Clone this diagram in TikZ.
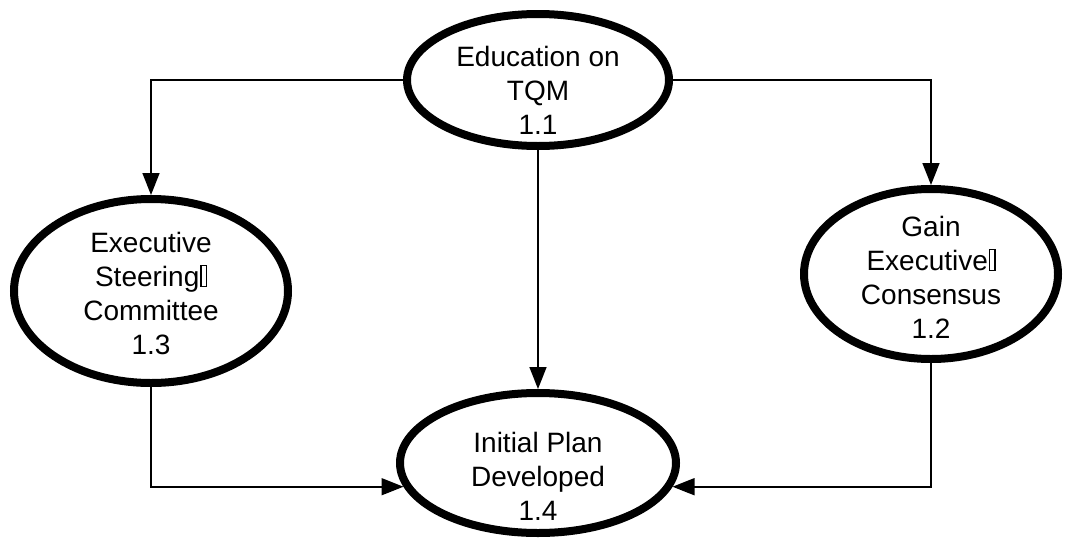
\documentclass[tikz,border=0pt]{standalone}
\usepackage{fontspec}
\setmainfont{Liberation Sans}
\usetikzlibrary{shapes.geometric,arrows.meta}
% narrow empty box that follows some words
\newcommand{\tofubox}{\kern1pt{\setlength{\fboxsep}{0pt}\setlength{\fboxrule}{1.3pt}\fbox{\rule{0pt}{20pt}\kern4pt}}}
\tikzset{
  process/.style={ellipse, draw=black, line width=8pt, fill=white, inner sep=0pt},
  proctext/.style={align=center, inner sep=0pt, font=\fontsize{28}{34}\selectfont},
  flow/.style={draw=black, line width=1.6pt,
    -{Triangle[length=22pt,width=17pt]}}
}
\begin{document}
\begin{tikzpicture}[x=1pt,y=-1pt]
\useasboundingbox (0,0) rectangle (1068,538);

% process bubbles
\node[process, minimum width=262pt, minimum height=132pt] (edu) at (538,80) {};
\node[process, minimum width=274pt, minimum height=184pt] (steer) at (151,291) {};
\node[process, minimum width=254pt, minimum height=170pt] (gain) at (931,274) {};
\node[process, minimum width=276pt, minimum height=140pt] (init) at (538,463) {};

% their captions
\node[proctext] (edutxt) at (538,90) {Education on\\TQM\\1.1};
\node[proctext] (steertxt) at (151,293) {Executive\\Steering\tofubox\\Committee\\1.3};
\node[proctext] (gaintxt) at (931,277) {Gain\\Executive\tofubox\\Consensus\\1.2};
\node[proctext] (inittxt) at (538,476) {Initial Plan\\Developed\\1.4};

% data flows
\draw[flow] (edu.west) -| (steer.north);
\draw[flow] (edu.east) -| (gain.north);
\draw[flow] (edu.south) -- (init.north);
\draw[flow] (steer.south) |- (init.190.5);
\draw[flow] (gain.south) |- (init.-10.5);
\end{tikzpicture}
\end{document}
